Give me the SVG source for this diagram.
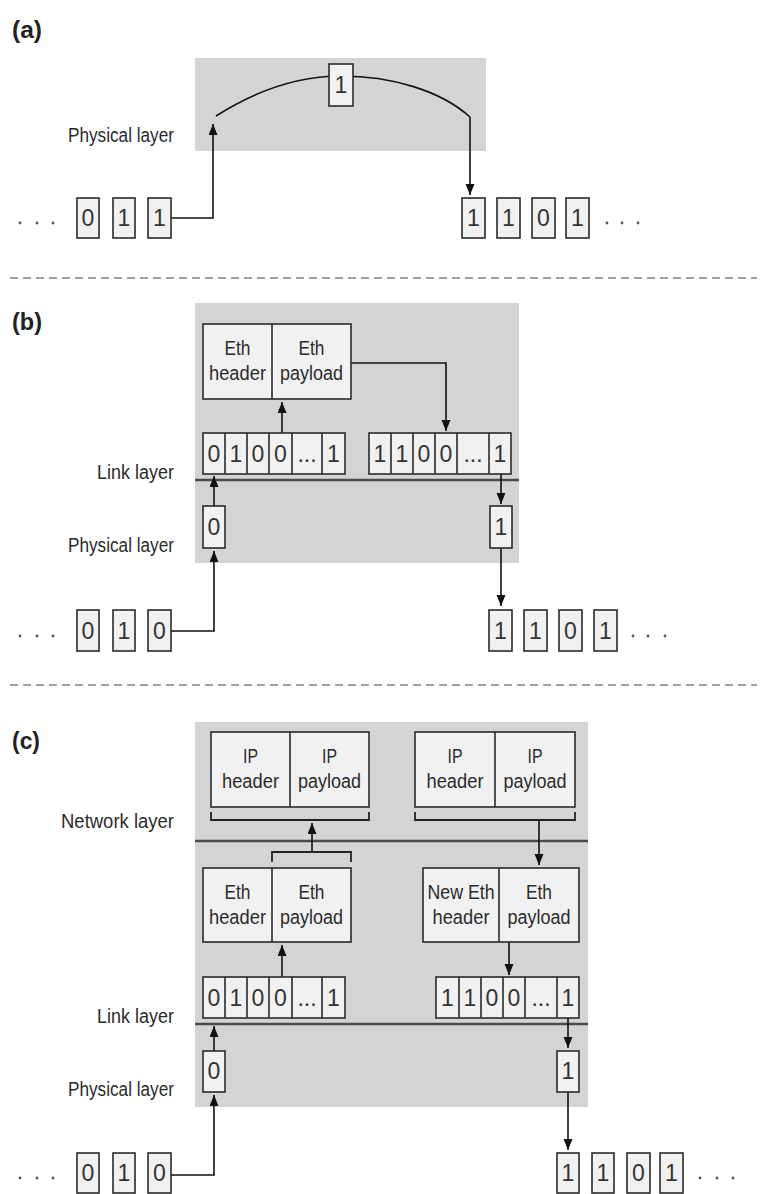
<svg xmlns="http://www.w3.org/2000/svg" width="761" height="1194" viewBox="0 0 761 1194">
<defs>
<marker id="ah" markerUnits="userSpaceOnUse" markerWidth="12" markerHeight="10" refX="11" refY="4.5" orient="auto">
<path d="M0,0 L11,4.5 L0,9 z" fill="#111"/>
</marker>
<style>
.bg{fill:#d4d4d4}
.box{fill:#f1f1f1;stroke:#2a2a2a;stroke-width:1.6}
.div{stroke:#2a2a2a;stroke-width:1.6}
.layer{stroke:#4a4a4a;stroke-width:2.5}
.con{fill:none;stroke:#111;stroke-width:1.6}
.arr{fill:none;stroke:#111;stroke-width:1.6;marker-end:url(#ah)}
.brk{fill:none;stroke:#222;stroke-width:1.8}
.dash{stroke:#a0a0a0;stroke-width:2.2;stroke-dasharray:8 5}
.lbl{font-family:"Liberation Sans",Arial,sans-serif;font-size:20px;fill:#2b2b2b;text-anchor:end}
.sec{font-family:"Liberation Sans",Arial,sans-serif;font-size:23px;font-weight:bold;fill:#222}
.t{font-family:"Liberation Sans",Arial,sans-serif;font-size:20px;fill:#2b2b2b;text-anchor:middle}
.b{font-family:"Liberation Sans",Arial,sans-serif;font-size:23px;fill:#333;text-anchor:middle}
.dot{fill:#555}
</style>
</defs>
<rect width="761" height="1194" fill="#fff"/>

<!-- Section (a) -->
<g id="sec-a">
<text class="sec" x="12" y="38" textLength="30" lengthAdjust="spacingAndGlyphs">(a)</text>
<rect id="a-phys-area" class="bg" x="195" y="58" width="291" height="93"/>
<text class="lbl" x="174" y="142" textLength="106" lengthAdjust="spacingAndGlyphs">Physical layer</text>
</g>
<g id="a-connectors">
<path class="con" d="M216,116 C260,88 300,76 341,76 C390,76 440,90 470,117"/>
<path class="arr" d="M171,218 H213 V124"/>
<path class="arr" d="M470,117 V195"/>
</g>
<g id="a-bit-top"><rect class="box" x="329" y="64" width="24" height="42"/><text class="b" x="341" y="93">1</text></g>
<g id="a-bits-left">
<circle class="dot" cx="20" cy="223" r="1.4"/><circle class="dot" cx="37" cy="223" r="1.4"/><circle class="dot" cx="53" cy="223" r="1.4"/>
<rect class="box" x="77" y="198" width="22" height="40"/><text class="b" x="88" y="226">0</text>
<rect class="box" x="113" y="198" width="22" height="40"/><text class="b" x="124" y="226">1</text>
<rect class="box" x="148" y="198" width="23" height="40"/><text class="b" x="159.5" y="226">1</text>
</g>
<g id="a-bits-right">
<rect class="box" x="462" y="198" width="23" height="40"/><text class="b" x="473.5" y="226">1</text>
<rect class="box" x="497" y="198" width="23" height="40"/><text class="b" x="508.5" y="226">1</text>
<rect class="box" x="532" y="198" width="23" height="40"/><text class="b" x="543.5" y="226">0</text>
<rect class="box" x="566" y="198" width="23" height="40"/><text class="b" x="577.5" y="226">1</text>
<circle class="dot" cx="607" cy="223" r="1.4"/><circle class="dot" cx="622" cy="223" r="1.4"/><circle class="dot" cx="638" cy="223" r="1.4"/>
</g>

<line class="dash" x1="10" y1="278" x2="757" y2="278"/>

<!-- Section (b) -->
<g id="sec-b">
<text class="sec" x="12" y="330" textLength="30" lengthAdjust="spacingAndGlyphs">(b)</text>
<rect class="bg" x="195" y="303" width="324" height="260"/>
<line class="layer" x1="195" y1="480" x2="519" y2="480"/>
<text class="lbl" x="174" y="479" textLength="77" lengthAdjust="spacingAndGlyphs">Link layer</text>
<text class="lbl" x="174" y="552" textLength="106" lengthAdjust="spacingAndGlyphs">Physical layer</text>
</g>
<g id="b-connectors">
<path class="arr" d="M351,363 H446 V431"/>
<path class="arr" d="M282,433 V402"/>
<path class="arr" d="M214,506 V476"/>
<path class="arr" d="M171,631 H214 V551"/>
<path class="arr" d="M501,474 V504"/>
<path class="arr" d="M501,548 V606"/>
</g>
<g id="b-eth-frame">
<rect class="box" x="203" y="324" width="148" height="75"/><line class="div" x1="272" y1="324" x2="272" y2="399"/>
<text class="t" x="237.5" y="355" textLength="26" lengthAdjust="spacingAndGlyphs">Eth</text><text class="t" x="237.5" y="380" textLength="57" lengthAdjust="spacingAndGlyphs">header</text>
<text class="t" x="311.5" y="355" textLength="26" lengthAdjust="spacingAndGlyphs">Eth</text><text class="t" x="311.5" y="380" textLength="63" lengthAdjust="spacingAndGlyphs">payload</text>
</g>
<g id="b-strip-left">
<rect class="box" x="203" y="433" width="142" height="41"/>
<line class="div" x1="225" y1="433" x2="225" y2="474"/><line class="div" x1="247" y1="433" x2="247" y2="474"/><line class="div" x1="269" y1="433" x2="269" y2="474"/><line class="div" x1="292" y1="433" x2="292" y2="474"/><line class="div" x1="322" y1="433" x2="322" y2="474"/>
<text class="b" x="214" y="462">0</text><text class="b" x="236" y="462">1</text><text class="b" x="258" y="462">0</text><text class="b" x="280.5" y="462">0</text><text class="b" x="307" y="462">...</text><text class="b" x="333.5" y="462">1</text>
</g>
<g id="b-strip-right">
<rect class="box" x="369" y="433" width="142" height="41"/>
<line class="div" x1="391" y1="433" x2="391" y2="474"/><line class="div" x1="413" y1="433" x2="413" y2="474"/><line class="div" x1="435" y1="433" x2="435" y2="474"/><line class="div" x1="457" y1="433" x2="457" y2="474"/><line class="div" x1="489" y1="433" x2="489" y2="474"/>
<text class="b" x="380" y="462">1</text><text class="b" x="402" y="462">1</text><text class="b" x="424" y="462">0</text><text class="b" x="446" y="462">0</text><text class="b" x="473" y="462">...</text><text class="b" x="500" y="462">1</text>
</g>
<g id="b-phys-bit-left"><rect class="box" x="203" y="506" width="22" height="42"/><text class="b" x="214" y="535">0</text></g>
<g id="b-phys-bit-right"><rect class="box" x="490" y="506" width="22" height="42"/><text class="b" x="501" y="535">1</text></g>
<g id="b-bits-left">
<circle class="dot" cx="20" cy="636" r="1.4"/><circle class="dot" cx="37" cy="636" r="1.4"/><circle class="dot" cx="53" cy="636" r="1.4"/>
<rect class="box" x="77" y="610" width="22" height="41"/><text class="b" x="88" y="639">0</text>
<rect class="box" x="113" y="610" width="22" height="41"/><text class="b" x="124" y="639">1</text>
<rect class="box" x="148" y="610" width="23" height="41"/><text class="b" x="159.5" y="639">0</text>
</g>
<g id="b-bits-right">
<rect class="box" x="489" y="610" width="23" height="41"/><text class="b" x="500.5" y="639">1</text>
<rect class="box" x="524" y="610" width="23" height="41"/><text class="b" x="535.5" y="639">1</text>
<rect class="box" x="559" y="610" width="23" height="41"/><text class="b" x="570.5" y="639">0</text>
<rect class="box" x="594" y="610" width="23" height="41"/><text class="b" x="605.5" y="639">1</text>
<circle class="dot" cx="633" cy="636" r="1.4"/><circle class="dot" cx="648" cy="636" r="1.4"/><circle class="dot" cx="665" cy="636" r="1.4"/>
</g>

<line class="dash" x1="10" y1="685" x2="757" y2="685"/>

<!-- Section (c) -->
<g id="sec-c">
<text class="sec" x="12" y="749" textLength="28" lengthAdjust="spacingAndGlyphs">(c)</text>
<rect class="bg" x="195" y="722" width="393" height="385"/>
<line class="layer" x1="195" y1="841" x2="588" y2="841"/>
<line class="layer" x1="195" y1="1024" x2="588" y2="1024"/>
<text class="lbl" x="174" y="828" textLength="113" lengthAdjust="spacingAndGlyphs">Network layer</text>
<text class="lbl" x="174" y="1023" textLength="77" lengthAdjust="spacingAndGlyphs">Link layer</text>
<text class="lbl" x="174" y="1096" textLength="106" lengthAdjust="spacingAndGlyphs">Physical layer</text>
</g>
<g id="c-connectors">
<path class="brk" d="M211,812 V820 H369 V812"/>
<path class="brk" d="M415,812 V820 H575 V812"/>
<path class="brk" d="M272,862 V852 H351 V862"/>
<path class="arr" d="M312,852 V823"/>
<path class="arr" d="M539,820 V865"/>
<path class="arr" d="M282,977 V945"/>
<path class="arr" d="M509,942 V975"/>
<path class="arr" d="M214,1051 V1026"/>
<path class="arr" d="M171,1175 H214 V1095"/>
<path class="arr" d="M568,1018 V1048"/>
<path class="arr" d="M568,1092 V1150"/>
</g>
<g id="c-ip-left">
<rect class="box" x="211" y="732" width="158" height="75"/><line class="div" x1="290" y1="732" x2="290" y2="807"/>
<text class="t" x="250.5" y="763" textLength="15" lengthAdjust="spacingAndGlyphs">IP</text><text class="t" x="250.5" y="788" textLength="57" lengthAdjust="spacingAndGlyphs">header</text>
<text class="t" x="329.5" y="763" textLength="15" lengthAdjust="spacingAndGlyphs">IP</text><text class="t" x="329.5" y="788" textLength="63" lengthAdjust="spacingAndGlyphs">payload</text>
</g>
<g id="c-ip-right">
<rect class="box" x="415" y="732" width="160" height="75"/><line class="div" x1="495" y1="732" x2="495" y2="807"/>
<text class="t" x="455" y="763" textLength="15" lengthAdjust="spacingAndGlyphs">IP</text><text class="t" x="455" y="788" textLength="57" lengthAdjust="spacingAndGlyphs">header</text>
<text class="t" x="535" y="763" textLength="15" lengthAdjust="spacingAndGlyphs">IP</text><text class="t" x="535" y="788" textLength="63" lengthAdjust="spacingAndGlyphs">payload</text>
</g>
<g id="c-eth-left">
<rect class="box" x="203" y="868" width="148" height="74"/><line class="div" x1="272" y1="868" x2="272" y2="942"/>
<text class="t" x="237.5" y="899" textLength="26" lengthAdjust="spacingAndGlyphs">Eth</text><text class="t" x="237.5" y="924" textLength="57" lengthAdjust="spacingAndGlyphs">header</text>
<text class="t" x="311.5" y="899" textLength="26" lengthAdjust="spacingAndGlyphs">Eth</text><text class="t" x="311.5" y="924" textLength="63" lengthAdjust="spacingAndGlyphs">payload</text>
</g>
<g id="c-eth-right">
<rect class="box" x="423" y="868" width="156" height="74"/><line class="div" x1="499" y1="868" x2="499" y2="942"/>
<text class="t" x="461" y="899" textLength="67" lengthAdjust="spacingAndGlyphs">New Eth</text><text class="t" x="461" y="924" textLength="57" lengthAdjust="spacingAndGlyphs">header</text>
<text class="t" x="539" y="899" textLength="26" lengthAdjust="spacingAndGlyphs">Eth</text><text class="t" x="539" y="924" textLength="63" lengthAdjust="spacingAndGlyphs">payload</text>
</g>
<g id="c-strip-left">
<rect class="box" x="203" y="977" width="142" height="41"/>
<line class="div" x1="225" y1="977" x2="225" y2="1018"/><line class="div" x1="247" y1="977" x2="247" y2="1018"/><line class="div" x1="269" y1="977" x2="269" y2="1018"/><line class="div" x1="292" y1="977" x2="292" y2="1018"/><line class="div" x1="322" y1="977" x2="322" y2="1018"/>
<text class="b" x="214" y="1006">0</text><text class="b" x="236" y="1006">1</text><text class="b" x="258" y="1006">0</text><text class="b" x="280.5" y="1006">0</text><text class="b" x="307" y="1006">...</text><text class="b" x="333.5" y="1006">1</text>
</g>
<g id="c-strip-right">
<rect class="box" x="436" y="977" width="143" height="41"/>
<line class="div" x1="459" y1="977" x2="459" y2="1018"/><line class="div" x1="481" y1="977" x2="481" y2="1018"/><line class="div" x1="503" y1="977" x2="503" y2="1018"/><line class="div" x1="525" y1="977" x2="525" y2="1018"/><line class="div" x1="557" y1="977" x2="557" y2="1018"/>
<text class="b" x="447.5" y="1006">1</text><text class="b" x="470" y="1006">1</text><text class="b" x="492" y="1006">0</text><text class="b" x="514" y="1006">0</text><text class="b" x="541" y="1006">...</text><text class="b" x="568" y="1006">1</text>
</g>
<g id="c-phys-bit-left"><rect class="box" x="203" y="1051" width="22" height="41"/><text class="b" x="214" y="1079">0</text></g>
<g id="c-phys-bit-right"><rect class="box" x="557" y="1051" width="22" height="41"/><text class="b" x="568" y="1079">1</text></g>
<g id="c-bits-left">
<circle class="dot" cx="20" cy="1178" r="1.4"/><circle class="dot" cx="37" cy="1178" r="1.4"/><circle class="dot" cx="53" cy="1178" r="1.4"/>
<rect class="box" x="77" y="1153" width="22" height="40"/><text class="b" x="88" y="1181">0</text>
<rect class="box" x="113" y="1153" width="22" height="40"/><text class="b" x="124" y="1181">1</text>
<rect class="box" x="148" y="1153" width="23" height="40"/><text class="b" x="159.5" y="1181">0</text>
</g>
<g id="c-bits-right">
<rect class="box" x="557" y="1153" width="22" height="40"/><text class="b" x="568" y="1181">1</text>
<rect class="box" x="592" y="1153" width="22" height="40"/><text class="b" x="603" y="1181">1</text>
<rect class="box" x="627" y="1153" width="23" height="40"/><text class="b" x="638.5" y="1181">0</text>
<rect class="box" x="660" y="1153" width="23" height="40"/><text class="b" x="671.5" y="1181">1</text>
<circle class="dot" cx="700" cy="1178" r="1.4"/><circle class="dot" cx="717" cy="1178" r="1.4"/><circle class="dot" cx="733" cy="1178" r="1.4"/>
</g>
</svg>
